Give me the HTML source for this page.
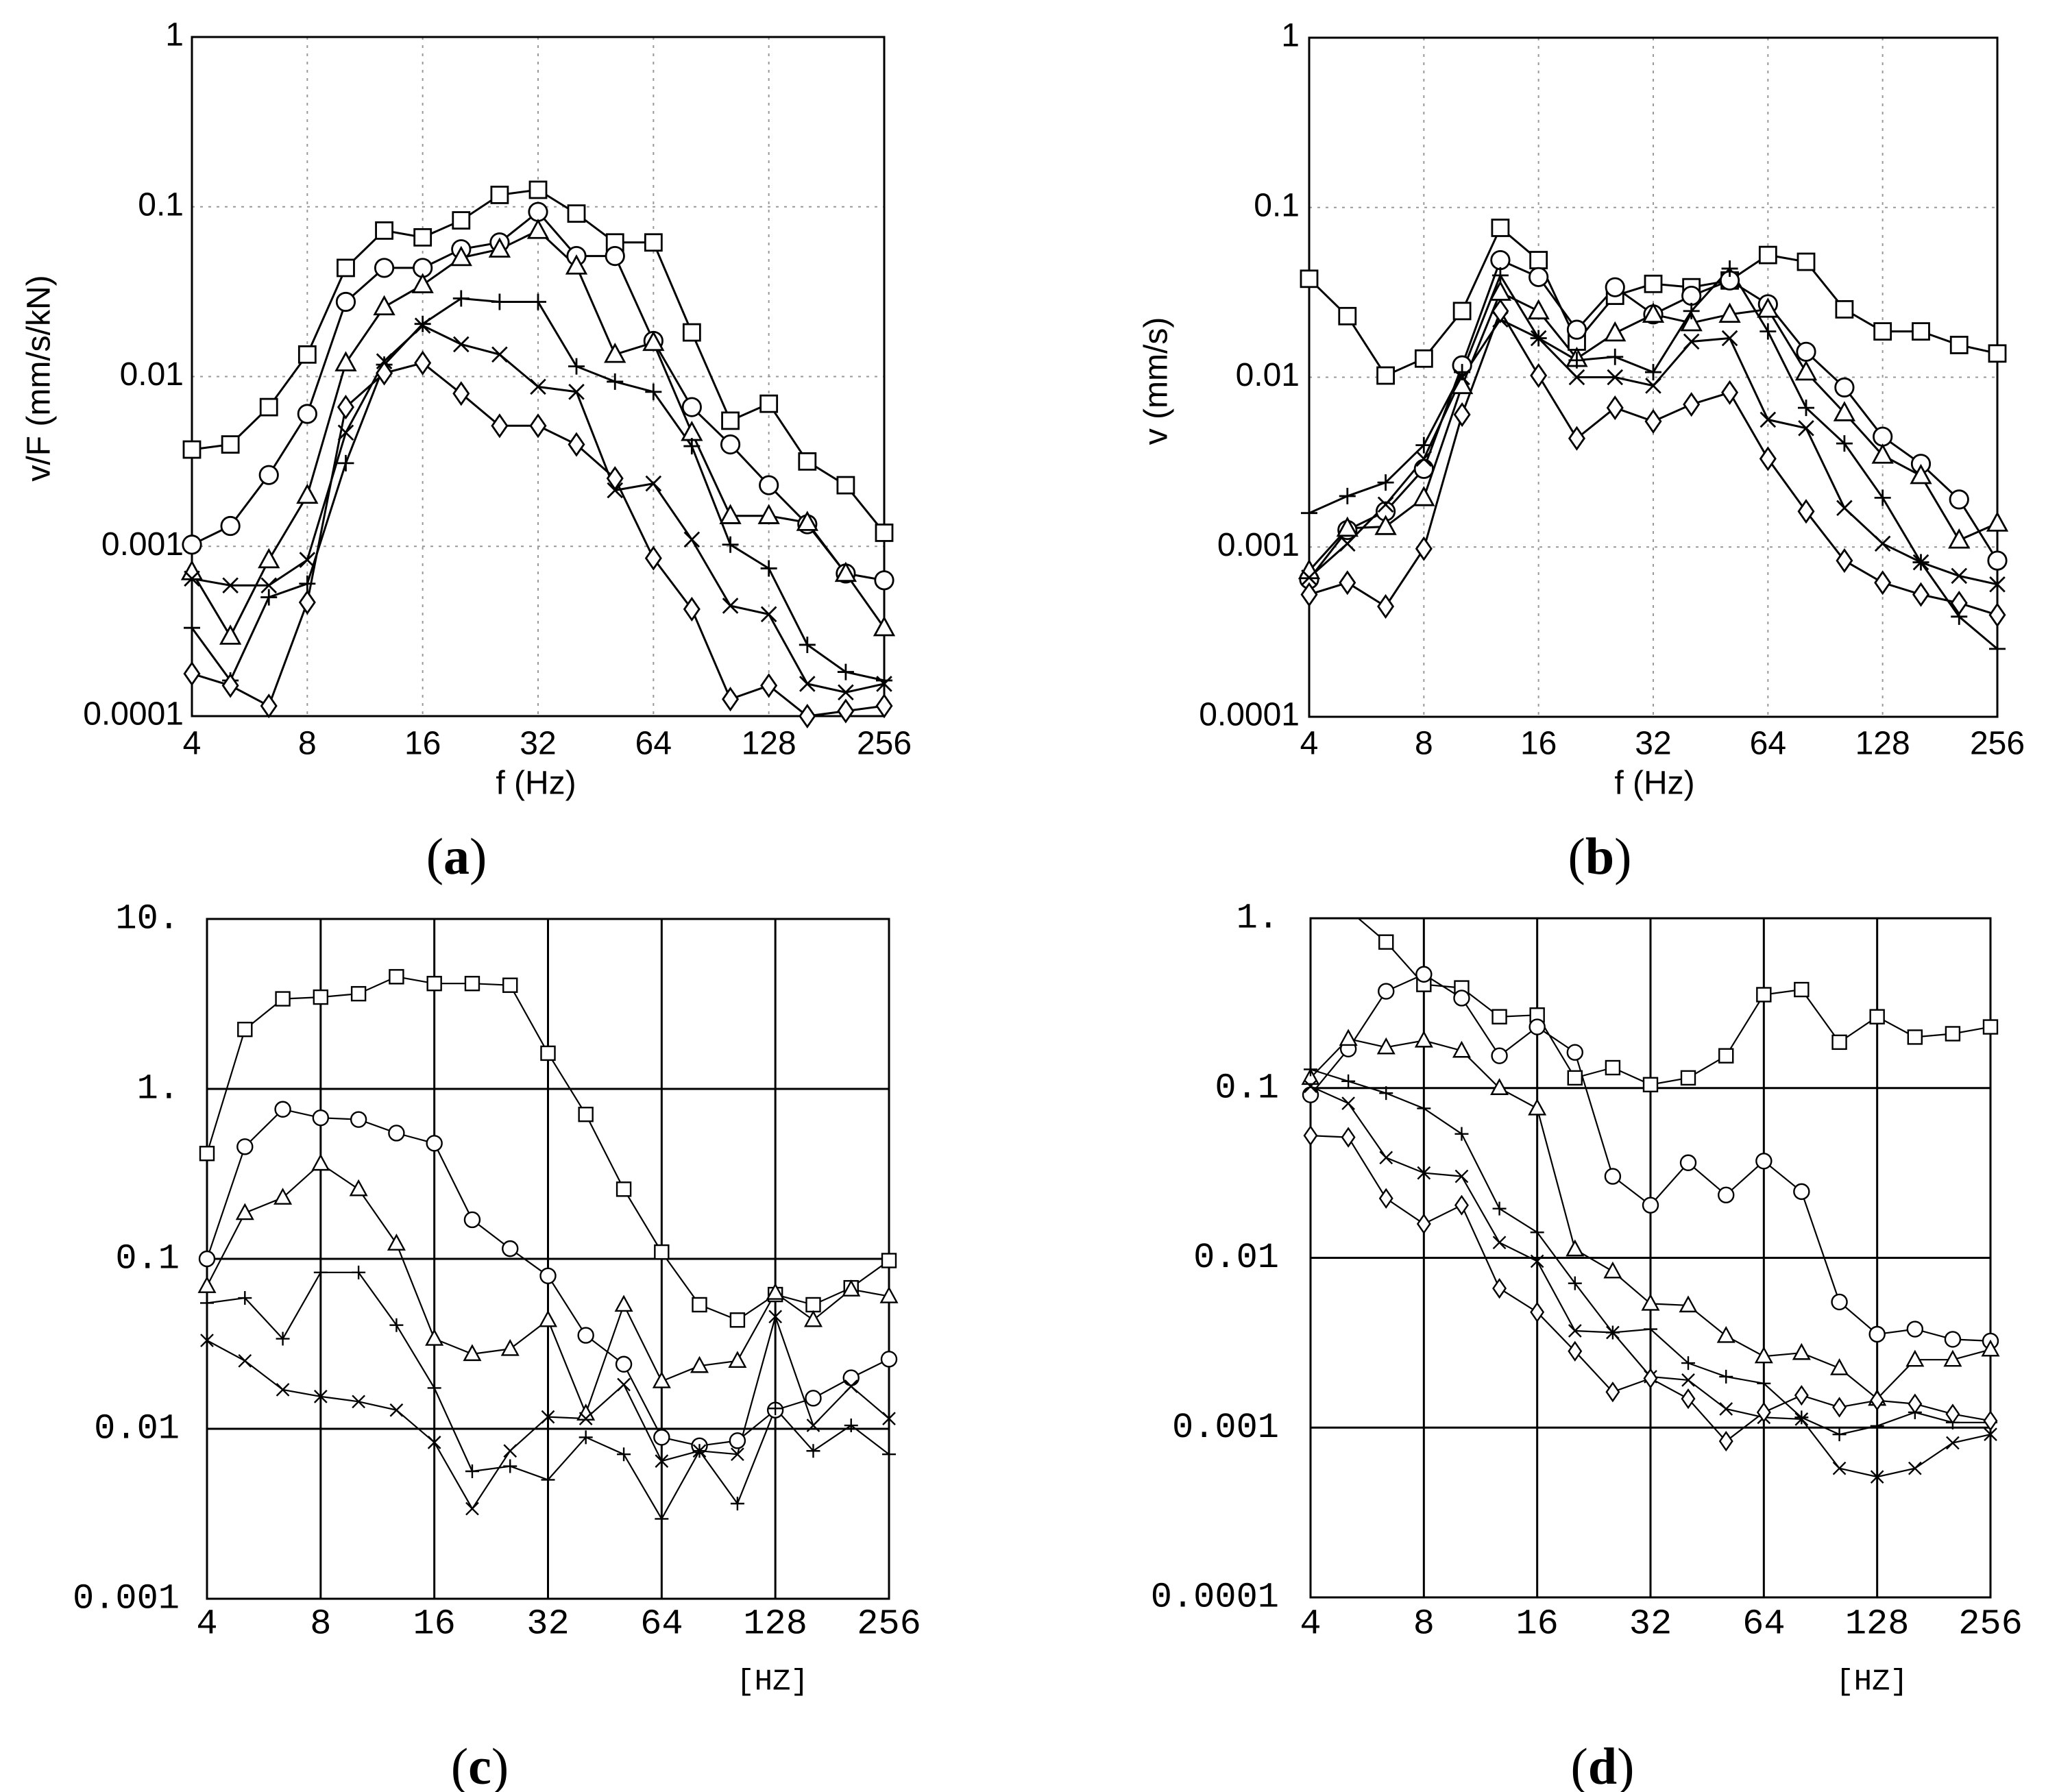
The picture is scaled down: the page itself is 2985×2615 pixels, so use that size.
<!DOCTYPE html>
<html><head><meta charset="utf-8"><style>
html,body{margin:0;padding:0;background:#fff}
svg{display:block}
</style></head><body>
<svg id="fig" width="2985" height="2615" viewBox="0 0 2985 2615" xmlns="http://www.w3.org/2000/svg">
<rect x="0" y="0" width="2985" height="2615" fill="#fff"/>
</svg>
<script>
// categories: 1/3 octave band centres (Hz)
const freqs=[4,5.04,6.35,8,10.08,12.7,16,20.16,25.4,32,40.3,50.8,64,80.6,101.6,128,161.3,203.2,256];
const xTicks=[4,8,16,32,64,128,256];
// series values stored as log10 of the plotted quantity
// panel (a) v/F
const aSquare=[-2.43,-2.40,-2.18,-1.87,-1.36,-1.14,-1.18,-1.08,-0.93,-0.90,-1.04,-1.21,-1.21,-1.74,-2.26,-2.16,-2.50,-2.64,-2.92];
const aCircle=[-2.99,-2.88,-2.58,-2.22,-1.56,-1.36,-1.36,-1.25,-1.21,-1.03,-1.29,-1.29,-1.79,-2.18,-2.40,-2.64,-2.87,-3.16,-3.20];
const aTriangle=[-3.15,-3.53,-3.08,-2.70,-1.92,-1.59,-1.46,-1.30,-1.25,-1.14,-1.35,-1.87,-1.80,-2.33,-2.82,-2.82,-2.86,-3.16,-3.48];
const aPlus=[-3.48,-3.79,-3.30,-3.22,-2.51,-1.93,-1.69,-1.54,-1.56,-1.56,-1.94,-2.03,-2.09,-2.41,-2.99,-3.13,-3.58,-3.74,-3.79];
const aCross=[-3.19,-3.23,-3.23,-3.08,-2.33,-1.91,-1.70,-1.81,-1.87,-2.06,-2.09,-2.67,-2.63,-2.96,-3.35,-3.40,-3.81,-3.86,-3.81];
const aDiamond=[-3.75,-3.82,-3.94,-3.33,-2.18,-1.98,-1.92,-2.10,-2.29,-2.29,-2.40,-2.60,-3.07,-3.37,-3.90,-3.82,-4.00,-3.97,-3.94];
// panel (b) v
const bSquare=[-1.42,-1.64,-1.99,-1.89,-1.61,-1.12,-1.31,-1.79,-1.52,-1.45,-1.47,-1.43,-1.28,-1.32,-1.60,-1.73,-1.73,-1.81,-1.86];
const bCircle=[-3.19,-2.90,-2.79,-2.54,-1.93,-1.31,-1.41,-1.72,-1.47,-1.63,-1.52,-1.43,-1.57,-1.85,-2.06,-2.35,-2.51,-2.72,-3.08];
const bTriangle=[-3.14,-2.89,-2.88,-2.71,-2.05,-1.50,-1.61,-1.89,-1.74,-1.63,-1.68,-1.63,-1.60,-1.97,-2.21,-2.46,-2.58,-2.96,-2.86];
const bPlus=[-2.80,-2.70,-2.62,-2.40,-1.97,-1.40,-1.77,-1.90,-1.88,-1.97,-1.61,-1.36,-1.73,-2.18,-2.39,-2.71,-3.09,-3.41,-3.60];
const bCross=[-3.18,-2.98,-2.75,-2.48,-2.00,-1.66,-1.77,-2.00,-2.00,-2.05,-1.79,-1.77,-2.25,-2.30,-2.77,-2.98,-3.09,-3.17,-3.22];
const bDiamond=[-3.28,-3.21,-3.35,-3.01,-2.22,-1.61,-1.99,-2.36,-2.18,-2.26,-2.16,-2.09,-2.48,-2.79,-3.08,-3.21,-3.28,-3.33,-3.40];
// panel (c)
const cSquare=[-0.38,0.35,0.53,0.54,0.56,0.66,0.62,0.62,0.61,0.21,-0.15,-0.59,-0.96,-1.27,-1.36,-1.21,-1.27,-1.17,-1.01];
const cCircle=[-1.00,-0.34,-0.12,-0.17,-0.18,-0.26,-0.32,-0.77,-0.94,-1.10,-1.45,-1.62,-2.05,-2.10,-2.07,-1.89,-1.82,-1.70,-1.59];
const cTriangle=[-1.16,-0.73,-0.64,-0.44,-0.59,-0.91,-1.47,-1.56,-1.53,-1.36,-1.91,-1.27,-1.72,-1.63,-1.60,-1.20,-1.36,-1.18,-1.22];
const cPlus=[-1.26,-1.23,-1.47,-1.08,-1.08,-1.39,-1.76,-2.25,-2.22,-2.30,-2.05,-2.15,-2.53,-2.13,-2.44,-1.88,-2.13,-1.98,-2.15];
const cCross=[-1.48,-1.60,-1.77,-1.81,-1.84,-1.89,-2.08,-2.47,-2.13,-1.93,-1.94,-1.74,-2.19,-2.13,-2.15,-1.34,-1.98,-1.75,-1.94];
// panel (d)
const dSquare=[0.23,0.05,-0.14,-0.39,-0.41,-0.58,-0.57,-0.94,-0.88,-0.98,-0.94,-0.81,-0.45,-0.42,-0.73,-0.58,-0.70,-0.68,-0.64];
const dCircle=[-1.04,-0.77,-0.43,-0.33,-0.47,-0.81,-0.64,-0.79,-1.52,-1.69,-1.44,-1.63,-1.43,-1.61,-2.26,-2.45,-2.42,-2.48,-2.49];
const dTriangle=[-0.94,-0.71,-0.76,-0.72,-0.78,-1.00,-1.12,-1.95,-2.08,-2.27,-2.28,-2.46,-2.58,-2.56,-2.65,-2.83,-2.60,-2.60,-2.54];
const dPlus=[-0.89,-0.96,-1.03,-1.12,-1.27,-1.71,-1.85,-2.15,-2.44,-2.42,-2.62,-2.70,-2.74,-2.94,-3.04,-2.99,-2.91,-2.97,-2.97];
const dCross=[-0.99,-1.09,-1.41,-1.50,-1.52,-1.91,-2.02,-2.43,-2.44,-2.70,-2.72,-2.89,-2.94,-2.95,-3.24,-3.29,-3.24,-3.09,-3.04];
const dDiamond=[-1.28,-1.29,-1.65,-1.80,-1.69,-2.18,-2.32,-2.55,-2.79,-2.71,-2.83,-3.08,-2.91,-2.81,-2.88,-2.84,-2.86,-2.92,-2.96];
const abYTicks=["1","0.1","0.01","0.001","0.0001"];
const cYTicks=["10.","1.","0.1","0.01","0.001"];
const dYTicks=["1.","0.1","0.01","0.001","0.0001"];

const NS="http://www.w3.org/2000/svg";
const svg=document.getElementById('fig');
function mk(tag,attrs,parent){const e=document.createElementNS(NS,tag);for(const k in attrs)e.setAttribute(k,attrs[k]);(parent||svg).appendChild(e);return e;}

function marker(g,type,x,y,s,sw){
  let e;
  if(type==='square'){e=mk('rect',{x:x-s,y:y-s,width:2*s,height:2*s,fill:'#fff',stroke:'#000','stroke-width':sw},g);}
  else if(type==='circle'){e=mk('circle',{cx:x,cy:y,r:s*1.1,fill:'#fff',stroke:'#000','stroke-width':sw},g);}
  else if(type==='triangle'){e=mk('polygon',{points:`${x},${y-s*1.2} ${x-s*1.15},${y+s*0.9} ${x+s*1.15},${y+s*0.9}`,fill:'#fff',stroke:'#000','stroke-width':sw},g);}
  else if(type==='diamond'){e=mk('polygon',{points:`${x},${y-s*1.3} ${x+s*0.9},${y} ${x},${y+s*1.3} ${x-s*0.9},${y}`,fill:'#fff',stroke:'#000','stroke-width':sw},g);}
  else if(type==='plus'){e=mk('path',{d:`M${x-s} ${y}H${x+s}M${x} ${y-s}V${y+s}`,stroke:'#000','stroke-width':sw,fill:'none'},g);}
  else {e=mk('path',{d:`M${x-s*0.9} ${y-s*0.9}L${x+s*0.9} ${y+s*0.9}M${x+s*0.9} ${y-s*0.9}L${x-s*0.9} ${y+s*0.9}`,stroke:'#000','stroke-width':sw,fill:'none'},g);}
  
  
}

function panel(p){
  const g=mk('g',{});
  
  
  const xs=f=>p.x0+(Math.log2(f/4)/6)*(p.x1-p.x0);
  const ys=v=>p.y0+(p.ymax-v)/(p.ymax-p.ymin)*(p.y1-p.y0);
  const clipId='clip-'+p.name;
  const cp=mk('clipPath',{id:clipId},g);
  mk('rect',{x:p.x0-30,y:p.y0,width:p.x1-p.x0+60,height:p.y1-p.y0+30},cp);
  for(let i=0;i<xTicks.length;i++){
    const x=xs(xTicks[i]);
    const l=mk('line',{x1:x,y1:p.y0,x2:x,y2:p.y1,stroke:p.old?'#000':'#999','stroke-width':p.old?3:2,'stroke-dasharray':p.old?'none':'4 8'},g);
    
    
    const t=mk('text',{x:x,y:p.tickY,'text-anchor':'middle','font-family':p.old?'"Liberation Mono",monospace':'"Liberation Sans",sans-serif','font-size':p.old?52:48,fill:'#000','dominant-baseline':'middle'},g);
    t.textContent=xTicks[i];
    
    
  }
  for(let i=0;i<p.yTicks.length;i++){
    const v=p.ymax-i;const y=ys(v);
    const l=mk('line',{x1:p.x0,y1:y,x2:p.x1,y2:y,stroke:p.old?'#000':'#999','stroke-width':p.old?3:2,'stroke-dasharray':p.old?'none':'4 8'},g);
    
    
    const t=mk('text',{x:p.yLabX,y:y,'text-anchor':'end','font-family':p.old?'"Liberation Mono",monospace':'"Liberation Sans",sans-serif','font-size':p.old?52:48,fill:'#000','dominant-baseline':'middle'},g);
    t.textContent=p.yTicks[i];
    
    
  }
  const box=mk('rect',{x:p.x0,y:p.y0,width:p.x1-p.x0,height:p.y1-p.y0,fill:'none',stroke:'#000','stroke-width':3},g);
  
  
  const dg=mk('g',{'clip-path':`url(#${clipId})`},g);
  for(const s of p.series){
    let d='';
    s.data.forEach((v,i)=>{d+=(i?'L':'M')+xs(freqs[i]).toFixed(1)+' '+ys(v).toFixed(1);});
    const pl=mk('path',{d:d,fill:'none',stroke:'#000','stroke-width':p.old?2.2:3},dg);
    
    
  }
  for(const s of p.series){
    s.data.forEach((v,i)=>{ if(v<=p.ymax+0.02) marker(dg,s.type,xs(freqs[i]),ys(v),p.old?10:12,p.old?2.4:2.8);});
  }
}

panel({name:'chart-a',x0:280,x1:1290,y0:54,y1:1045,ymin:-4,ymax:0,yTicks:abYTicks,tickY:1088,yLabX:268,old:false,
  series:[{type:'square',data:aSquare},{type:'circle',data:aCircle},{type:'triangle',data:aTriangle},{type:'plus',data:aPlus},{type:'cross',data:aCross},{type:'diamond',data:aDiamond}]});
panel({name:'chart-b',x0:1910,x1:2914,y0:55,y1:1046,ymin:-4,ymax:0,yTicks:abYTicks,tickY:1088,yLabX:1896,old:false,
  series:[{type:'square',data:bSquare},{type:'circle',data:bCircle},{type:'triangle',data:bTriangle},{type:'plus',data:bPlus},{type:'cross',data:bCross},{type:'diamond',data:bDiamond}]});
panel({name:'chart-c',x0:302,x1:1297,y0:1341,y1:2333,ymin:-3,ymax:1,yTicks:cYTicks,tickY:2370,yLabX:262,old:true,
  series:[{type:'square',data:cSquare},{type:'circle',data:cCircle},{type:'triangle',data:cTriangle},{type:'plus',data:cPlus},{type:'cross',data:cCross}]});
panel({name:'chart-d',x0:1912,x1:2904,y0:1340,y1:2331,ymin:-4,ymax:0,yTicks:dYTicks,tickY:2370,yLabX:1866,old:true,
  series:[{type:'square',data:dSquare},{type:'circle',data:dCircle},{type:'triangle',data:dTriangle},{type:'plus',data:dPlus},{type:'cross',data:dCross},{type:'diamond',data:dDiamond}]});

function txt(s,attrs,name){const t=mk('text',attrs);t.textContent=s;return t;}
txt('f (Hz)',{x:782,y:1146,'text-anchor':'middle','dominant-baseline':'middle','font-family':'"Liberation Sans",sans-serif','font-size':48},'x-axis-title-a');
txt('f (Hz)',{x:2414,y:1146,'text-anchor':'middle','dominant-baseline':'middle','font-family':'"Liberation Sans",sans-serif','font-size':48},'x-axis-title-b');
txt('v/F (mm/s/kN)',{x:0,y:0,transform:'translate(60,552) rotate(-90)','text-anchor':'middle','dominant-baseline':'middle','font-family':'"Liberation Sans",sans-serif','font-size':48},'y-axis-title-a');
txt('v (mm/s)',{x:0,y:0,transform:'translate(1690,556) rotate(-90)','text-anchor':'middle','dominant-baseline':'middle','font-family':'"Liberation Sans",sans-serif','font-size':48},'y-axis-title-b');
txt('[HZ]',{x:1127,y:2454,'text-anchor':'middle','dominant-baseline':'middle','font-family':'"Liberation Mono",monospace','font-size':44},'x-axis-title-c');
txt('[HZ]',{x:2731,y:2454,'text-anchor':'middle','dominant-baseline':'middle','font-family':'"Liberation Mono",monospace','font-size':44},'x-axis-title-d');
const labs=[['a',666,1258],['b',2334,1258],['c',700,2586],['d',2338,2586]];
for(const [l,x,y] of labs){
  const t=mk('text',{x:x,y:y,'text-anchor':'middle','dominant-baseline':'middle','font-family':'"Liberation Serif",serif','font-size':76});
  
  
  t.appendChild(document.createTextNode('('));
  const b=mk('tspan',{'font-weight':'bold'},t);b.textContent=l;
  t.appendChild(document.createTextNode(')'));
}
</script>
</body></html>
